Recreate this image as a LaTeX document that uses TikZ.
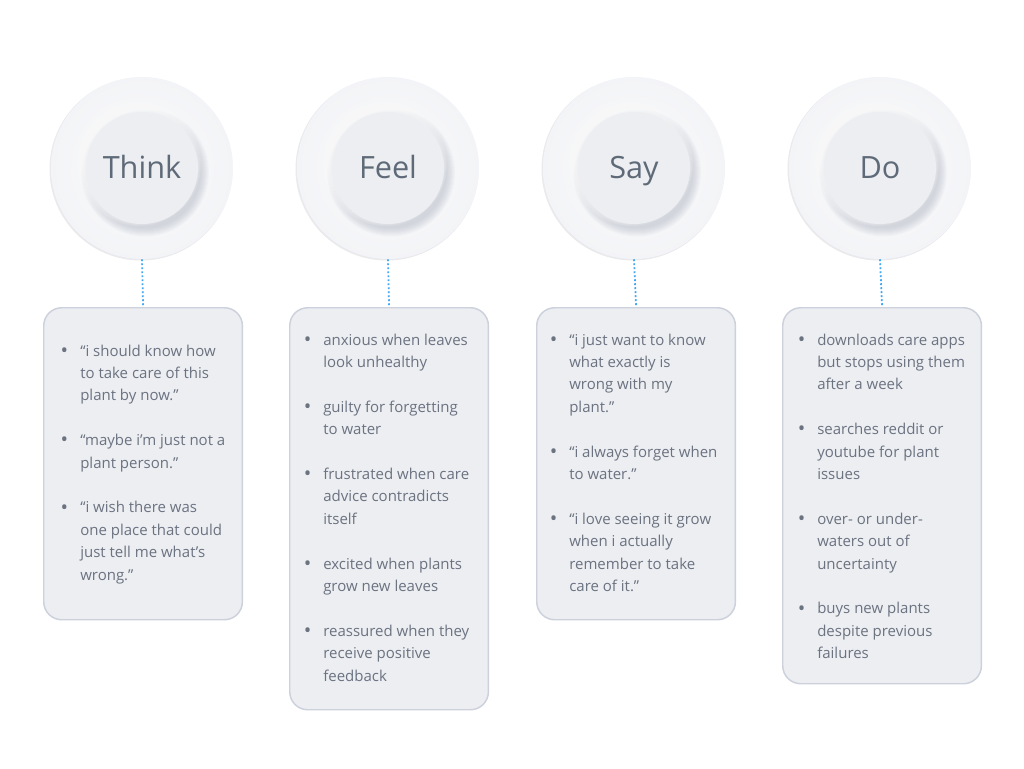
\documentclass[tikz,border=0pt]{standalone}
\usepackage{fontspec}
\setmainfont{Open Sans}
\usetikzlibrary{calc}
\definecolor{txt}{HTML}{6B7280}
\definecolor{ttl}{HTML}{5F6A78}
\definecolor{boxfill}{HTML}{ECEEF2}
\definecolor{boxline}{HTML}{CDD1DC}
\definecolor{conn}{HTML}{3FA7F3}
\definecolor{discin}{HTML}{ECEEF2}
\definecolor{discout}{HTML}{F2F3F6}
\definecolor{discmid}{HTML}{EEEFF3}
\definecolor{rim}{HTML}{E0E2E8}
\definecolor{shadowc}{HTML}{A6ACBC}
\pgfdeclareradialshading{outerdisc}{\pgfpointorigin}{color(0bp)=(white!60!discout); color(30bp)=(discout); color(45bp)=(discmid); color(50bp)=(rim)}
\newcommand{\bul}{\leavevmode\llap{\raisebox{-0.9pt}{\fontsize{15pt}{15pt}\selectfont •}\hspace{9pt}}}
\newcommand{\gap}{\\[16.8pt]}
\newcommand{\lst}[1]{\parbox[t]{200pt}{\raggedright\fontsize{11.25pt}{16.8pt}\selectfont #1}}
\tikzset{
  outerdisc/.style={circle, minimum size=136.5pt, inner sep=0pt},
  innerdisc/.style={circle, minimum size=84pt, inner sep=0pt, fill=discin},
  title/.style={anchor=base, inner sep=0pt, text=ttl, font=\fontsize{23pt}{23pt}\selectfont},
  cardbox/.style={anchor=north west, draw=boxline, line width=1.1pt, fill=boxfill, rounded corners=13.5pt, minimum width=149pt, inner sep=0pt},
  listtxt/.style={anchor=base west, inner sep=0pt, text=txt},
  connline/.style={draw=conn, line width=1.3pt, dash pattern=on 1.4pt off 1.6pt},
}
\newcommand{\plate}[4]{%
  \node[outerdisc] (#1) at (#2,168) {};
  \fill[rim!90!black!40!white] ($(#1.center)+(-1,1)$) circle (91.5);
  \shade[shading=outerdisc] (#1.center) circle (91);
  \foreach \k in {0,...,8} \fill[shadowc, opacity=0.055] ($(#1.center)+(3,4.5)$) circle ({56+\k});
  \foreach \k in {0,...,6} \fill[white, opacity=0.12] ($(#1.center)+(-3,-4)$) circle ({56+\k});
  \node[innerdisc] (#1in) at (#1.center) {};
  \node[title] (#1t) at (#2,178) {#3};
}
\begin{document}
\begin{tikzpicture}[x=0.75pt, y=-0.75pt]
\useasboundingbox[fill=white] (0,0) rectangle (1024,768);

\plate{think}{142}{Think}{}
\plate{feel}{388}{Feel}{}
\plate{say}{634}{Say}{}
\plate{doo}{880}{Do}{}

\node[cardbox, minimum height=234pt] (thinkbox) at (43,307) {};
\node[cardbox, minimum height=301.5pt] (feelbox) at (289,307) {};
\node[cardbox, minimum height=234pt] (saybox) at (536,307) {};
\node[cardbox, minimum height=282pt] (doobox) at (782,307) {};

\draw[connline] (think.south) -- (thinkbox.north);
\draw[connline] (feel.south) -- (feelbox.north);
\draw[connline] (say.south) -- (saybox.north);
\draw[connline] (doo.south) -- (doobox.north);

\node[listtxt] (thinklist) at (80,356) {\lst{\bul “i should know how\\to take care of this\\plant by now.”\gap
\bul “maybe i’m just not a\\plant person.”\gap
\bul “i wish there was\\one place that could\\just tell me what’s\\wrong.”}};

\node[listtxt] (feellist) at (323,345) {\lst{\bul anxious when leaves\\look unhealthy\gap
\bul guilty for forgetting\\to water\gap
\bul frustrated when care\\advice contradicts\\itself\gap
\bul excited when plants\\grow new leaves\gap
\bul reassured when they\\receive positive\\feedback}};

\node[listtxt] (saylist) at (569,345) {\lst{\bul “i just want to know\\what exactly is\\wrong with my\\plant.”\gap
\bul “i always forget when\\to water.”\gap
\bul “i love seeing it grow\\when i actually\\remember to take\\care of it.”}};

\node[listtxt] (doolist) at (817,345) {\lst{\bul downloads care apps\\but stops using them\\after a week\gap
\bul searches reddit or\\youtube for plant\\issues\gap
\bul over- or under-\\waters out of\\uncertainty\gap
\bul buys new plants\\despite previous\\failures}};
\end{tikzpicture}
\end{document}
